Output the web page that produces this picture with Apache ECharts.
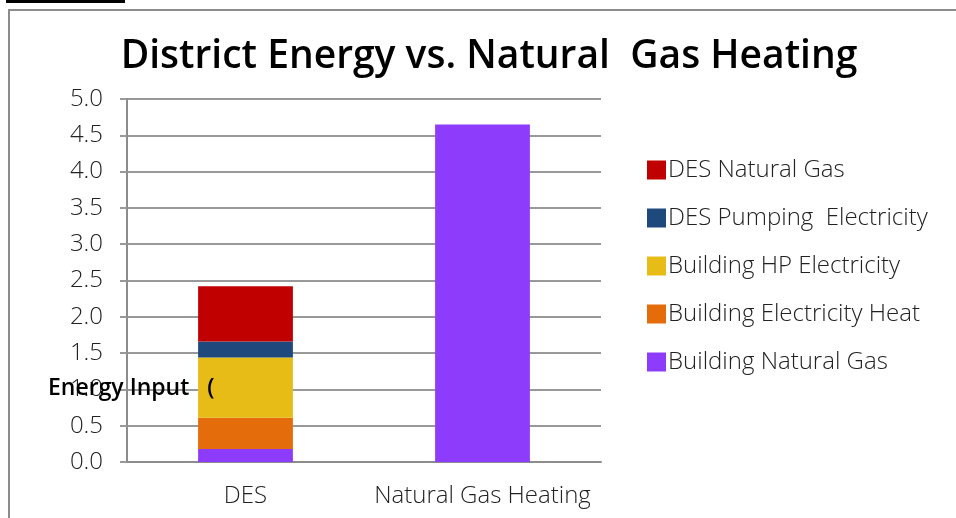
<!DOCTYPE html>
<html>
<head>
<meta charset="utf-8">
<script src="https://cdn.jsdelivr.net/npm/echarts@6/dist/echarts.min.js"></script>
<style>
  html, body { margin: 0; padding: 0; background: #fff; }
  #chart { width: 956px; height: 518px; }
</style>
</head>
<body>
<div id="chart"></div>
<script>
var categories = ['DES', 'Natural Gas Heating'];
var legendOrder = ['DES Natural Gas', 'DES Pumping  Electricity', 'Building HP Electricity', 'Building Electricity Heat', 'Building Natural Gas'];

// stacked from bottom to top
var buildingNaturalGas = [0.18, 4.65];
var buildingElecHeat = [0.43, 0];
var buildingHpElec = [0.83, 0];
var desPumpingElec = [0.22, 0];
var desNaturalGas = [0.76, 0];

var yTicks = { min: 0, max: 5, interval: 0.5 };

var chartDom = document.getElementById('chart');
var myChart = echarts.init(chartDom);
var font = 'Open Sans';

function barSeries(name, data, color) {
  return {
    name: name,
    type: 'bar',
    stack: 'total',
    barWidth: '40%',
    data: data,
    itemStyle: { color: color },
    emphasis: { disabled: true }
  };
}

var option = {
  animation: false,
  title: {
    text: 'District Energy vs. Natural  Gas Heating',
    left: 484,
    textAlign: 'center',
    top: 32,
    textStyle: { fontFamily: font, fontWeight: 600, fontSize: 39, color: '#000' }
  },
  legend: {
    orient: 'vertical',
    left: 642,
    top: 153,
    itemWidth: 19,
    itemHeight: 19,
    itemGap: 24,
    icon: 'rect',
    data: legendOrder,
    textStyle: { fontFamily: font, fontWeight: 300, fontSize: 24, color: '#222', padding: [0, 0, 0, -3] }
  },
  grid: { left: 127, right: 355, top: 99, bottom: 56 },
  xAxis: {
    type: 'category',
    data: categories,
    axisLine: { lineStyle: { color: '#8c8c8c', width: 2 } },
    axisTick: { length: 7, lineStyle: { color: '#8c8c8c', width: 2 } },
    axisLabel: { interval: 0, fontFamily: font, fontWeight: 300, fontSize: 24, color: '#222', margin: 22 }
  },
  yAxis: {
    type: 'value',
    min: yTicks.min,
    max: yTicks.max,
    interval: yTicks.interval,
    axisLine: { show: true, lineStyle: { color: '#8c8c8c', width: 2 } },
    axisTick: { show: true, length: 7, lineStyle: { color: '#999', width: 2 } },
    splitLine: { show: true, lineStyle: { color: '#999', width: 2 } },
    axisLabel: {
      fontFamily: font, fontWeight: 300, fontSize: 24, color: '#222', margin: 24,
      formatter: function (v) { return v.toFixed(1); }
    }
  },
  graphic: [
    { type: 'rect', shape: { x: 9, y: 10, width: 1000, height: 600 }, style: { fill: null, stroke: '#8c8c8c', lineWidth: 2 }, z: -1 },
    { type: 'rect', shape: { x: 6, y: 0, width: 119, height: 3 }, style: { fill: '#000' } },
    { type: 'text', left: 48, top: 377, z: 100,
      style: { text: 'Energy Input   (', fontFamily: font, fontWeight: 600, fontSize: 23, fill: '#000' } }
  ],
  series: [
    barSeries('Building Natural Gas', buildingNaturalGas, '#8e3cfc'),
    barSeries('Building Electricity Heat', buildingElecHeat, '#e46c0a'),
    barSeries('Building HP Electricity', buildingHpElec, '#e7bc17'),
    barSeries('DES Pumping  Electricity', desPumpingElec, '#1f497d'),
    barSeries('DES Natural Gas', desNaturalGas, '#c00000')
  ]
};

myChart.setOption(option);
</script>
</body>
</html>
